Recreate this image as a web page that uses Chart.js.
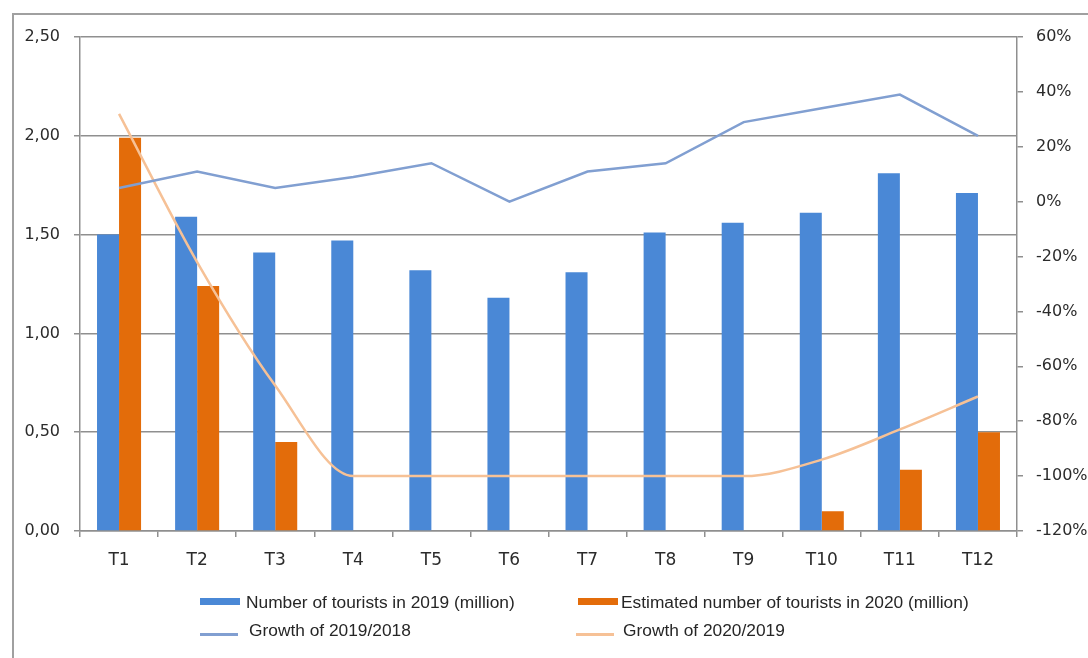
<!DOCTYPE html>
<html>
<head>
<meta charset="utf-8">
<script src="https://cdn.jsdelivr.net/npm/chart.js@4"></script>
<style>
    html, body { margin: 0; padding: 0; background: #fff; overflow: hidden; }
    #wrap { position: relative; width: 1088px; height: 658px; }
    #frame {
        position: absolute; left: 12px; top: 13px; width: 1200px; height: 800px;
        border-left: 2px solid #a0a0a0; border-top: 2px solid #a0a0a0;
    }
    #my-chart { position: absolute; left: 0; top: 0; }
    .legend { position: absolute; left: 0; top: 0; width: 1088px; height: 658px; pointer-events: none; }
    .legend .mark { position: absolute; }
    .legend .label {
        position: absolute; white-space: nowrap;
        font-family: "Liberation Sans", Arial, sans-serif; font-size: 16px; line-height: 16px; color: #262626;
        transform: scaleX(1.083); transform-origin: left center;
    }
</style>
</head>
<body>
<div id="wrap">
    <div id="frame"></div>
    <canvas id="my-chart" width="1088" height="658"></canvas>
    <div class="legend" id="legend"></div>
</div>
<script>
const months = ['T1', 'T2', 'T3', 'T4', 'T5', 'T6', 'T7', 'T8', 'T9', 'T10', 'T11', 'T12']
const tourists2019 = [1.50, 1.59, 1.41, 1.47, 1.32, 1.18, 1.31, 1.51, 1.56, 1.61, 1.81, 1.71]
const tourists2020 = [1.99, 1.24, 0.45, 0, 0, 0, 0, 0, 0, 0.10, 0.31, 0.50]
const growth2019 = [5, 11, 5, 9, 14, 0, 11, 14, 29, 34, 39, 24]
const growth2020 = [32, -22, -67, -100, -100, -100, -100, -100, -100, -94, -83, -71]

const blue = '#4a88d6'
const orange = '#e36c0a'
const blueLine = '#819fd1'
const orangeLine = '#f6c196'
const gridColor = '#8f8f8f'
const textColor = '#2b2b2b'
const yFont = { family: 'DejaVu Sans', size: 16 }
const xFont = { family: 'DejaVu Sans', size: 17 }

const ctx = document.getElementById('my-chart')

new Chart(ctx, {
    type: 'bar',
    data: {
        labels: months,
        datasets: [
            {
                label: 'Growth of 2019/2018',
                type: 'line',
                data: growth2019,
                yAxisID: 'y2',
                borderColor: blueLine,
                borderWidth: 2.5,
                pointRadius: 0,
                tension: 0,
                order: 0
            },
            {
                label: 'Growth of 2020/2019',
                type: 'line',
                data: growth2020,
                yAxisID: 'y2',
                borderColor: orangeLine,
                borderWidth: 2.5,
                pointRadius: 0,
                cubicInterpolationMode: 'monotone',
                order: 0
            },
            {
                label: 'Number of tourists in 2019 (million)',
                data: tourists2019,
                backgroundColor: blue,
                yAxisID: 'y',
                order: 1
            },
            {
                label: 'Estimated number of tourists in 2020 (million)',
                data: tourists2020,
                backgroundColor: orange,
                yAxisID: 'y',
                order: 1
            }
        ]
    },
    options: {
        responsive: false,
        animation: false,
        devicePixelRatio: 1,
        categoryPercentage: 0.564,
        barPercentage: 1,
        layout: { padding: { top: 37, bottom: 82, left: 0, right: 0 } },
        plugins: {
            legend: { display: false },
            tooltip: { enabled: false }
        },
        scales: {
            x: {
                offset: true,
                grid: { offset: true, drawOnChartArea: false, color: gridColor, lineWidth: 1.5, tickLength: 6 },
                border: { color: gridColor, width: 1.5 },
                ticks: { font: xFont, color: textColor, padding: 13 },
                // labels are clipped to the scale box, keep it tall enough
                afterFit: s => { s.height = 45 }
            },
            y: {
                position: 'left',
                min: 0,
                max: 2.5,
                grid: { color: gridColor, lineWidth: 1.5, tickLength: 6 },
                border: { color: gridColor, width: 1.5 },
                ticks: {
                    stepSize: 0.5,
                    font: yFont,
                    color: textColor,
                    padding: 14,
                    callback: v => v.toFixed(2).replace('.', ',')
                },
                afterFit: s => { s.width = 80 }
            },
            y2: {
                position: 'right',
                min: -120,
                max: 60,
                grid: { drawOnChartArea: false, color: gridColor, lineWidth: 1.5, tickLength: 6 },
                border: { color: gridColor, width: 1.5 },
                ticks: {
                    stepSize: 20,
                    font: yFont,
                    color: textColor,
                    padding: 13,
                    callback: v => v + '%'
                },
                afterFit: s => { s.width = 71 }
            }
        }
    }
})

// legend in two columns under the plot: bars on the first row, lines on the second
const legendItems = [
    { text: 'Number of tourists in 2019 (million)', color: blue, kind: 'box', x: 200, textX: 246, y: 603 },
    { text: 'Estimated number of tourists in 2020 (million)', color: orange, kind: 'box', x: 578, textX: 621, y: 603 },
    { text: 'Growth of 2019/2018', color: blueLine, kind: 'line', x: 200, textX: 249, y: 631 },
    { text: 'Growth of 2020/2019', color: orangeLine, kind: 'line', x: 576, textX: 623, y: 631 }
]

const legendEl = document.getElementById('legend')
legendItems.forEach(it => {
    const mark = document.createElement('div')
    mark.className = 'mark'
    mark.style.background = it.color
    mark.style.left = it.x + 'px'
    if (it.kind === 'box') {
        mark.style.width = '40px'
        mark.style.height = '7px'
        mark.style.top = (it.y - 5) + 'px'
    } else {
        mark.style.width = '38px'
        mark.style.height = '2.5px'
        mark.style.top = (it.y + 2) + 'px'
    }
    const label = document.createElement('div')
    label.className = 'label'
    label.textContent = it.text
    label.style.left = it.textX + 'px'
    label.style.top = (it.y - 8) + 'px'
    legendEl.appendChild(mark)
    legendEl.appendChild(label)
})
</script>
</body>
</html>
